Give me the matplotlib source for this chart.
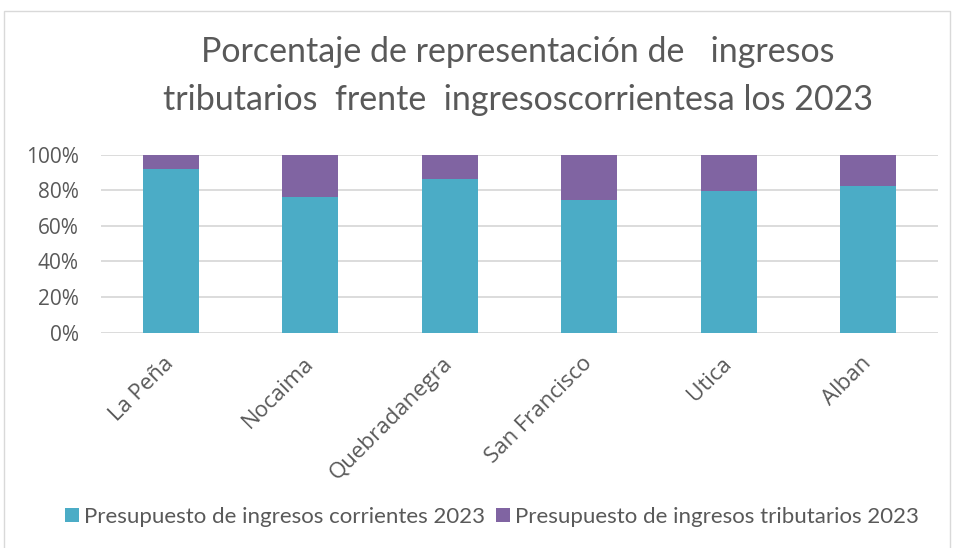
import matplotlib.pyplot as plt
import matplotlib.patches as mpatches
from matplotlib.ticker import PercentFormatter
import numpy as np

plt.rcParams['font.family'] = ['Lato', 'DejaVu Sans']

# Data (percent share of each municipality's 100% stacked bar)
municipios = ['La Peña', 'Nocaima', 'Quebradanegra', 'San Francisco', 'Utica', 'Alban']
corrientes = [91.8, 76.4, 86.3, 74.6, 79.8, 82.2]
tributarios = [8.2, 23.6, 13.7, 25.4, 20.2, 17.8]

color_dict = {'corr': '#4BACC6', 'trib': '#8064A2'}
text_col = '#595959'

fig = plt.figure(figsize=(9.56, 5.48), dpi=100)
ax = fig.add_axes([0.1057, 0.3929, 0.8753, 0.3248])

x = np.arange(len(municipios))
ax.bar(x, corrientes, width=0.4, color=color_dict['corr'], zorder=3,
       label='Presupuesto de ingresos corrientes 2023')
ax.bar(x, tributarios, width=0.4, bottom=corrientes, color=color_dict['trib'], zorder=3,
       label='Presupuesto de ingresos tributarios 2023')

ax.set_xlim(-0.5, len(municipios) - 0.5)
ax.set_ylim(0, 100)
ax.set_yticks(np.arange(0, 101, 20))
ax.yaxis.set_major_formatter(PercentFormatter(decimals=0))
ax.grid(axis='y', color='#d9d9d9', linewidth=1.3, zorder=0)
for s in ax.spines.values():
    s.set_visible(False)
ax.tick_params(axis='both', length=0, labelcolor=text_col)
ax.tick_params(axis='y', pad=16)
ax.tick_params(axis='x', pad=20)
ax.set_xticks(x)
ax.set_xticklabels(municipios, rotation=45, ha='right', va='center', rotation_mode='anchor')
for lab in ax.get_xticklabels():
    lab.set_fontfamily(['Open Sans', 'DejaVu Sans'])
    lab.set_fontsize(16)
for lab in ax.get_yticklabels():
    lab.set_fontfamily(['Open Sans', 'DejaVu Sans'])
    lab.set_fontsize(15)

fig.text(0.542, 0.905, 'Porcentaje de representación de   ingresos', ha='center', va='center',
         fontsize=24.5, color=text_col)
fig.text(0.542, 0.817, 'tributarios  frente  ingresoscorrientesa los 2023', ha='center', va='center',
         fontsize=24.5, color=text_col)

fig.legend(loc='center', bbox_to_anchor=(0.515, 0.057), ncol=2, frameon=False,
           fontsize=16, labelcolor=text_col, handlelength=0.6, handleheight=0.6,
           handletextpad=0.25, columnspacing=0.5)

fig.patches.append(mpatches.Rectangle((0.004, -0.01), 0.99, 0.99, transform=fig.transFigure,
                                      fill=False, edgecolor='#d9d9d9', linewidth=1))

fig.savefig('out.png', dpi=100)
